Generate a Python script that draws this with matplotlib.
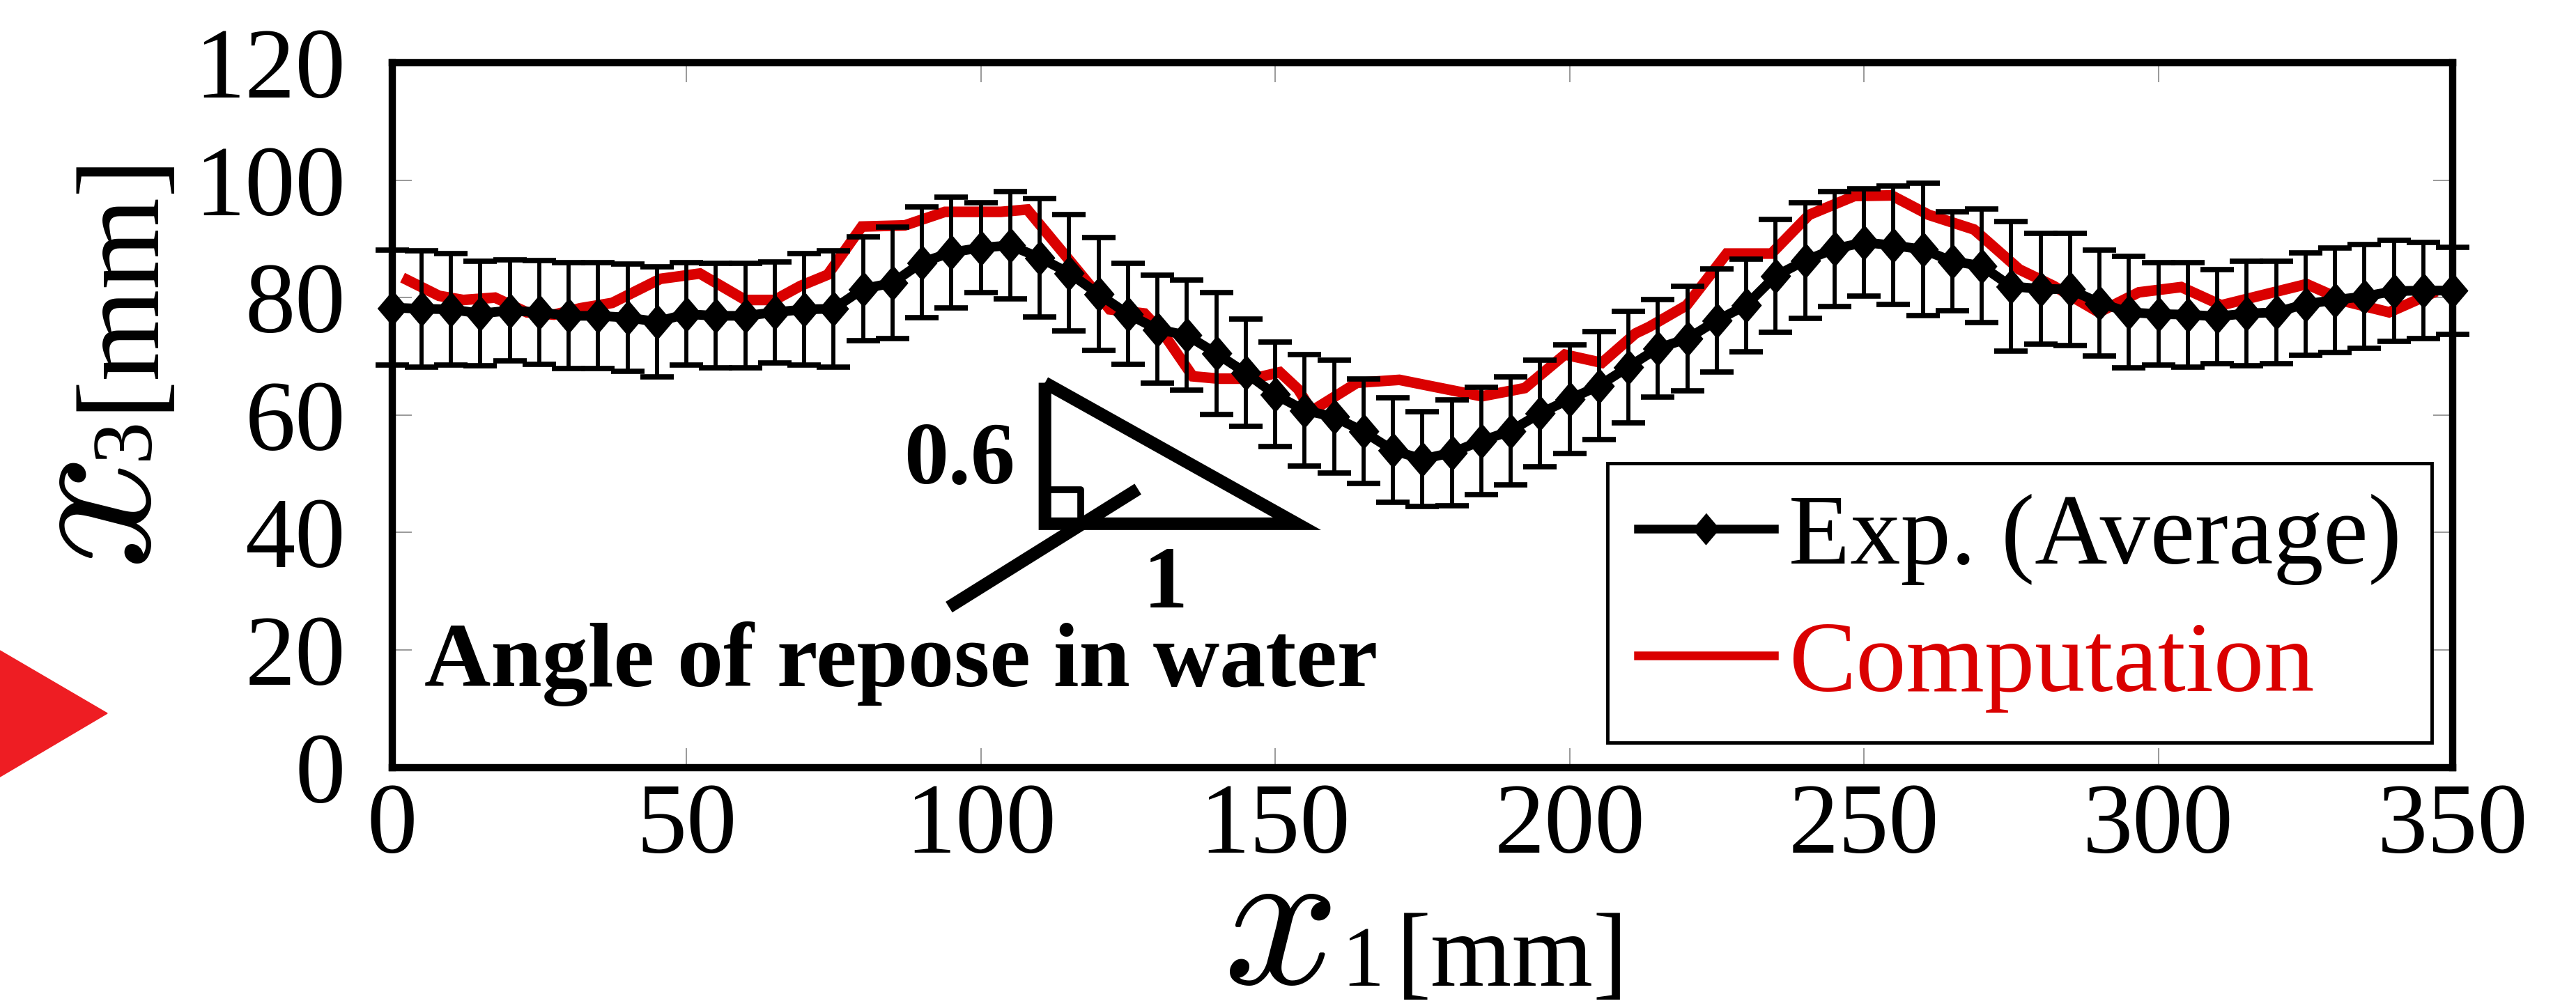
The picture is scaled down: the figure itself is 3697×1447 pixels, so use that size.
import matplotlib
matplotlib.use('Agg')
import matplotlib.pyplot as plt
from matplotlib.lines import Line2D
from matplotlib.patches import Polygon
import numpy as np

plt.rcParams['font.family'] = 'Liberation Serif'

W, H = 3697, 1447

# Experiment (average) with error bars, every 5 mm
exp_x = list(range(0, 351, 5))
exp_y = [78.3, 78.1, 78.0, 77.3, 77.8, 77.5, 76.9, 76.9, 76.6, 75.9,
         77.2, 76.9, 76.9, 77.5, 78.0, 78.1, 81.5, 82.5, 86.0, 87.7,
         88.5, 88.9, 86.8, 84.2, 80.6, 77.2, 74.6, 73.6, 70.5, 67.2,
         63.5, 60.8, 59.7, 57.2, 54.0, 52.5, 53.6, 55.6, 57.3, 60.3,
         62.7, 65.0, 68.2, 71.4, 73.0, 76.1, 78.7, 83.7, 86.3, 88.3,
         89.4, 88.9, 88.2, 86.2, 85.4, 81.9, 81.5, 81.4, 79.1, 77.5,
         77.2, 77.1, 76.8, 77.3, 77.5, 78.9, 79.6, 80.2, 81.1, 81.2, 81.2]
exp_err = [9.8, 9.9, 9.5, 8.9, 8.6, 8.8, 9.0, 9.0, 9.1, 9.4,
           8.7, 8.9, 8.9, 8.6, 9.5, 9.9, 8.8, 9.5, 9.4, 9.4,
           7.7, 9.1, 10.1, 9.9, 9.6, 8.6, 9.2, 9.4, 10.4, 9.1,
           8.9, 9.5, 9.6, 8.9, 8.9, 8.1, 9.0, 9.1, 9.2, 9.1,
           9.3, 9.2, 9.5, 8.3, 8.9, 8.8, 7.9, 9.6, 9.8, 9.8,
           9.1, 10.1, 11.3, 8.4, 9.7, 11.0, 9.4, 9.5, 9.0, 9.5,
           8.7, 8.9, 8.0, 8.9, 8.7, 8.7, 8.9, 8.8, 8.6, 8.2, 7.4]

# Computation
comp_x = [2.6, 8.0, 12.1, 17.5, 22.9, 27.5, 32.0, 37.4, 45.6, 52.3,
          60.0, 65.0, 69.4, 74.0, 79.8, 87.1, 93.9, 103.4, 107.9, 116.0,
          121.9, 127.8, 131.0, 136.0, 140.4, 146.2, 150.8, 153.9, 156.2, 163.9,
          171.1, 185.1, 192.4, 199.2, 205.5, 211.2, 213.5, 219.9, 226.7, 234.3,
          240.7, 248.4, 254.7, 261.0, 268.7, 276.4, 282.2, 289.9, 296.7, 303.9,
          310.7, 325.2, 332.0, 339.2, 346.4]
comp_y = [83.0, 80.3, 79.6, 80.0, 77.5, 77.1, 78.2, 79.1, 83.2, 84.1,
          79.6, 79.6, 82.0, 83.9, 92.1, 92.3, 94.6, 94.6, 95.0, 85.2,
          78.0, 77.3, 73.9, 66.6, 66.2, 66.2, 67.3, 64.4, 60.7, 65.5,
          66.0, 63.2, 64.6, 70.3, 68.9, 73.9, 75.0, 78.7, 87.5, 87.5,
          94.1, 97.3, 97.4, 94.1, 91.6, 84.8, 82.0, 77.5, 80.9, 81.8,
          78.7, 82.3, 79.3, 77.5, 80.7]

x_ticks = [0, 50, 100, 150, 200, 250, 300, 350]
y_ticks = [0, 20, 40, 60, 80, 100, 120]

red = '#da0000'


def fx(px):
    return px / W


def fy(py):
    return 1 - py / H


fig = plt.figure(figsize=(W / 100, H / 100), dpi=100)
ax = fig.add_axes([fx(562.6), fy(1101.7), fx(3520) - fx(562.6), fy(90) - fy(1101.7)])

ax.plot(comp_x, comp_y, color=red, lw=11, solid_joinstyle='miter', zorder=2)

diamond = [(0, 1), (0.85, 0), (0, -1), (-0.85, 0)]
ax.errorbar(exp_x, exp_y, yerr=exp_err, color='black', lw=10, marker=diamond,
            ms=36, elinewidth=4.2, capsize=17, capthick=5.5, clip_on=False, zorder=3)

ax.set_xlim(0, 350)
ax.set_ylim(0, 120)
ax.set_xticks(x_ticks)
ax.set_yticks(y_ticks)
ax.tick_params(direction='in', length=20, width=1.2, color='#888888',
               top=True, right=True, labelsize=104)
ax.tick_params(axis='x', pad=16)
ax.tick_params(axis='y', pad=48)
for s in ax.spines.values():
    s.set_linewidth(7.5)

# slope triangle annotation
ax.plot([110.9, 110.9, 153.7, 110.9], [65.5, 41.5, 41.5, 65.5], color='black', lw=13,
        solid_joinstyle='miter', solid_capstyle='butt', zorder=4)
ax.plot([110.9, 117.0, 117.0], [47.3, 47.3, 41.5], color='black', lw=7, zorder=4)
ax.plot([94.6, 126.7], [27.3, 47.4], color='black', lw=13, solid_capstyle='butt', zorder=4)
ax.text(105.8, 48.3, '0.6', fontsize=92, fontweight='bold', ha='right', va='baseline')
ax.text(131.4, 27.3, '1', fontsize=92, fontweight='bold', ha='center', va='baseline')
ax.text(86.5, 13.8, 'Angle of repose in water', fontsize=95, fontweight='bold',
        ha='center', va='baseline')

handles = [Line2D([], [], color='black', lw=9, marker=diamond, ms=32),
           Line2D([], [], color=red, lw=9)]
leg = ax.legend(handles, ['Exp. (Average)', 'Computation'], loc='lower right',
                bbox_to_anchor=(0.99, 0.035), borderaxespad=0, fontsize=104,
                handlelength=1.35, handletextpad=0.15, labelspacing=0.35,
                borderpad=0.3, fancybox=False, framealpha=1, edgecolor='black')
leg.get_frame().set_linewidth(3.5)
leg.get_texts()[1].set_color(red)

# axis labels built from pieces
fig.text(fx(1755), fy(1412), r'$x$', fontsize=210, math_fontfamily='cm',
         ha='left', va='baseline')
fig.text(fx(1925), fy(1415), '1', fontsize=88, ha='left', va='baseline')
fig.text(fx(2004), fy(1415), '[mm]', fontsize=108, ha='left', va='baseline')

fig.text(fx(215), fy(818), r'$x$', fontsize=210, math_fontfamily='cm', rotation=90,
         rotation_mode='anchor', ha='left', va='baseline')
fig.text(fx(212), fy(660), '3', fontsize=88, rotation=90,
         rotation_mode='anchor', ha='left', va='baseline')
fig.text(fx(215), fy(590), '[mm]', fontsize=122, rotation=90,
         rotation_mode='anchor', ha='left', va='baseline')

fig.patches.append(Polygon([(fx(0), fy(934)), (fx(154), fy(1024)), (fx(0), fy(1115))],
                           closed=True, color='#ee1d23', transform=fig.transFigure))

fig.savefig('out.png', dpi=100)
